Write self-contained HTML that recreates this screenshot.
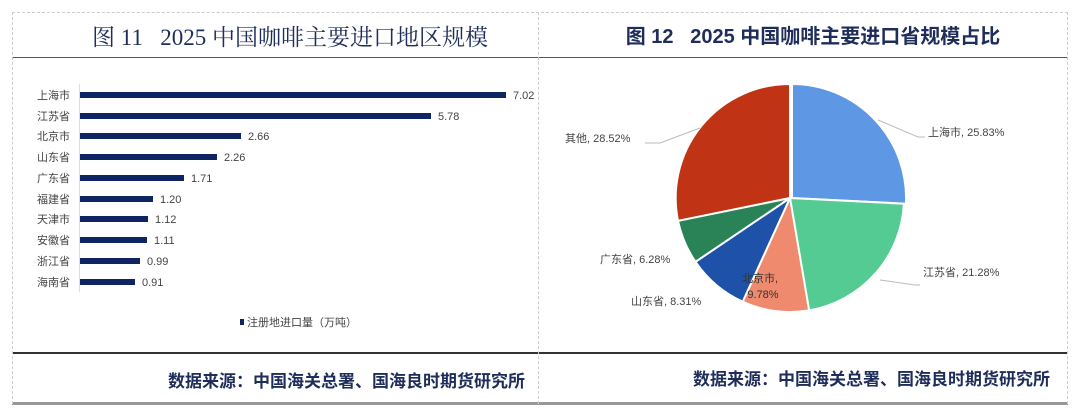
<!DOCTYPE html>
<html><head><meta charset="utf-8"><style>
body{margin:0;width:1080px;height:415px;background:#fff;position:relative;overflow:hidden;font-family:"Liberation Sans","Noto Sans CJK SC",sans-serif}
.a{position:absolute}
</style></head><body>
<div class="a" style="left:12px;top:12px;width:1056px;height:0;border-top:1px dashed #ccc"></div>
<div class="a" style="left:12px;top:57px;width:1056px;height:1px;background:#555"></div>
<div class="a" style="left:12px;top:352px;width:1056px;height:2px;background:#333"></div>
<div class="a" style="left:12px;top:402px;width:1056px;height:3px;background:#999"></div>
<div class="a" style="left:12px;top:12px;width:0;height:392px;border-left:1px dashed #ccc"></div>
<div class="a" style="left:538px;top:12px;width:0;height:392px;border-left:1px dashed #ccc"></div>
<div class="a" style="left:1067px;top:12px;width:0;height:392px;border-left:1px dashed #ccc"></div>
<div class="a" style="left:12px;top:19px;width:580px;left:0;text-align:center;font:23px 'Liberation Serif','Noto Serif CJK SC',serif;color:#1f2d5a;white-space:nowrap">图 11&nbsp;&nbsp; 2025 中国咖啡主要进口地区规模</div>
<div class="a" style="left:538px;top:20px;width:550px;text-align:center;font:bold 20px 'Liberation Sans','Noto Sans CJK SC',sans-serif;color:#1f2d5a;white-space:nowrap">图 12&nbsp;&nbsp; 2025 中国咖啡主要进口省规模占比</div>
<div class="a" style="left:12px;top:367px;width:513px;text-align:right;font:bold 17px 'Liberation Sans','Noto Sans CJK SC',sans-serif;color:#1f2d5a;white-space:nowrap">数据来源：中国海关总署、国海良时期货研究所</div>
<div class="a" style="left:538px;top:365px;width:512px;text-align:right;font:bold 17px 'Liberation Sans','Noto Sans CJK SC',sans-serif;color:#1f2d5a;white-space:nowrap">数据来源：中国海关总署、国海良时期货研究所</div>
<svg class="a" style="left:0;top:0" width="1080" height="415" font-family="Liberation Sans,Noto Sans CJK SC,sans-serif" font-size="11" fill="#444">
<line x1="79.5" y1="84" x2="79.5" y2="292" stroke="#ddd"/>
<g fill="#0f2462">
<rect x="80" y="92" width="426" height="6"/><rect x="80" y="113" width="351" height="6"/><rect x="80" y="133" width="161" height="6"/><rect x="80" y="154" width="137" height="6"/><rect x="80" y="175" width="104" height="6"/><rect x="80" y="196" width="73" height="6"/><rect x="80" y="216" width="68" height="6"/><rect x="80" y="237" width="67" height="6"/><rect x="80" y="258" width="60" height="6"/><rect x="80" y="279" width="55" height="6"/>
<rect x="240" y="319" width="4" height="6"/>
</g>
<g text-anchor="end">
<text x="70" y="99">上海市</text><text x="70" y="120">江苏省</text><text x="70" y="140">北京市</text><text x="70" y="161">山东省</text><text x="70" y="182">广东省</text><text x="70" y="203">福建省</text><text x="70" y="223">天津市</text><text x="70" y="244">安徽省</text><text x="70" y="265">浙江省</text><text x="70" y="286">海南省</text>
</g>
<text x="513" y="99">7.02</text><text x="438" y="120">5.78</text><text x="248" y="140">2.66</text><text x="224" y="161">2.26</text><text x="191" y="182">1.71</text><text x="160" y="203">1.20</text><text x="155" y="223">1.12</text><text x="154" y="244">1.11</text><text x="147" y="265">0.99</text><text x="142" y="286">0.91</text>
<text x="247" y="326">注册地进口量（万吨）</text>
<g stroke="#fff" stroke-width="2">
<path d="M790,198 L790,84 A114,114 0 0,1 903.9,203.7 Z" fill="#5e97e3" transform="translate(2,0)"/>
<path d="M790,198 L903.9,203.7 A114,114 0 0,1 809.1,310.4 Z" fill="#55cb94"/>
<path d="M790,198 L809.1,310.4 A114,114 0 0,1 742.7,301.7 Z" fill="#ef8a6f"/>
<path d="M790,198 L742.7,301.7 A114,114 0 0,1 695.5,261.8 Z" fill="#1d52a8"/>
<path d="M790,198 L695.5,261.8 A114,114 0 0,1 678,220.8 Z" fill="#2a8356"/>
<path d="M790,198 L678,220.8 A114,114 0 0,1 790,84 Z" fill="#c03415"/>
</g>
<g stroke="#bbb" fill="none"><polyline points="878,120 918,137 925,137"/><polyline points="700,128 660,143 645,143"/><polyline points="880,280 915,285 920,285"/></g>
<text x="928" y="136">上海市, 25.83%</text>
<text x="565" y="142">其他, 28.52%</text>
<text x="923" y="276">江苏省, 21.28%</text>
<text x="600" y="263">广东省, 6.28%</text>
<text x="631" y="305">山东省, 8.31%</text>
<text x="760" y="282" text-anchor="middle" fill="#333">北京市,</text>
<text x="763" y="298" text-anchor="middle" fill="#333">9.78%</text>
</svg>
</body></html>
